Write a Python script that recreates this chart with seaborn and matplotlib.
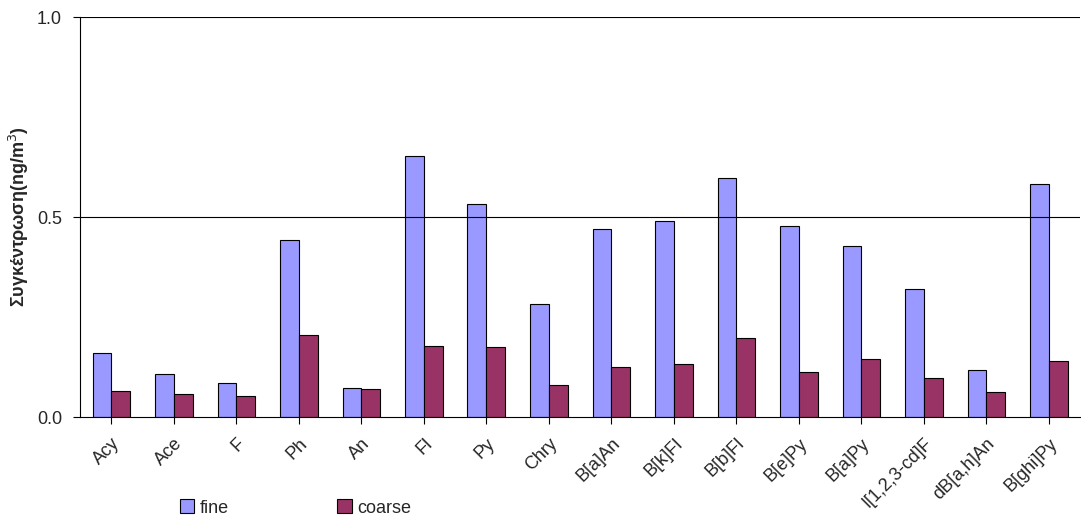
import matplotlib
matplotlib.use("Agg")
import matplotlib.pyplot as plt
import seaborn as sns
import pandas as pd

compounds = ["Acy", "Ace", "F", "Ph", "An", "Fl", "Py", "Chry", "B[a]An", "B[k]Fl",
             "B[b]Fl", "B[e]Py", "B[a]Py", "I[1,2,3-cd]F", "dB[a,h]An", "B[ghi]Py"]
fine = [0.160, 0.108, 0.085, 0.443, 0.073, 0.653, 0.533, 0.283, 0.470, 0.490,
        0.598, 0.478, 0.428, 0.320, 0.118, 0.583]
coarse = [0.065, 0.058, 0.053, 0.205, 0.070, 0.178, 0.175, 0.080, 0.125, 0.133,
          0.198, 0.113, 0.145, 0.098, 0.062, 0.140]

df = pd.DataFrame({"compound": compounds * 2,
                   "value": fine + coarse,
                   "size": ["fine"] * len(fine) + ["coarse"] * len(coarse)})

sns.set_style("white")
plt.rcParams["font.family"] = ["Liberation Sans", "DejaVu Sans"]

fig = plt.figure(figsize=(10.81, 5.17), dpi=100)
ax = fig.add_axes([80 / 1081, 100 / 517, 1000 / 1081, 400 / 517])
sns.barplot(data=df, x="compound", y="value", hue="size",
            palette={"fine": "#9999FF", "coarse": "#993366"}, saturation=1,
            edgecolor="black", linewidth=0.8, width=0.6, ax=ax)

ax.set_ylim(0, 1.0)
ax.set_yticks([0.0, 0.5, 1.0])
ax.set_yticklabels(["0.0", "0.5", "1.0"], fontsize=13)
for y in [0.5, 1.0]:
    ax.axhline(y, color="black", linewidth=0.8)
ax.set_xlabel("")
ax.set_ylabel("Συγκέντρωση(ng/m$^3$)", fontsize=13, fontweight="bold")
ax.set_xticks(range(len(compounds)))
ax.set_xticklabels(compounds, rotation=45, ha="right", rotation_mode="anchor", fontsize=13)
ax.tick_params(axis="both", length=5, color="black", direction="out", bottom=True, left=True, pad=8)
for s in ["top", "right"]:
    ax.spines[s].set_visible(False)
for s in ["left", "bottom"]:
    ax.spines[s].set_color("black")

handles, labels = ax.get_legend_handles_labels()
ax.get_legend().remove()
fig.legend(handles, labels, loc="center left", bbox_to_anchor=(180 / 1081, 1 - 508 / 517),
           ncol=2, frameon=False, fontsize=13, handlelength=0.8, handleheight=0.8,
           columnspacing=6, handletextpad=0.3, borderaxespad=0, borderpad=0)

fig.savefig("out.png", dpi=100)
